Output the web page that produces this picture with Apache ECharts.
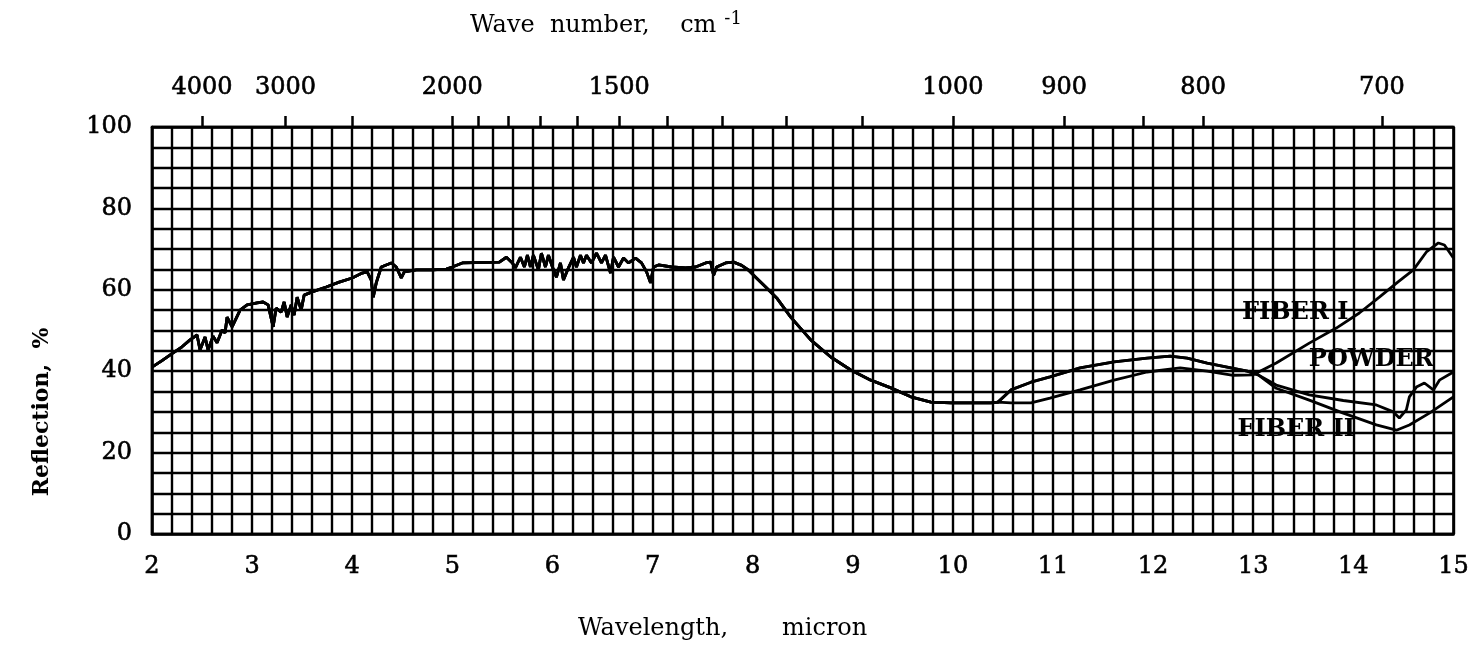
<!DOCTYPE html>
<html>
<head>
<meta charset="utf-8">
<script src="https://cdn.jsdelivr.net/npm/echarts@6/dist/echarts.min.js"></script>
<style>
  html, body { margin: 0; padding: 0; background: #fff; }
  #chart { width: 1472px; height: 652px; }
</style>
</head>
<body>
<div id="chart"></div>
<script>
// Reflection spectra: wavelength in micron vs reflection in percent.
// Below about 10.5 micron the three samples trace one common curve.
const sharedTrace = [
  [2.00, 41.0], [2.10, 42.6], [2.20, 44.3], [2.30, 46.0], [2.38, 47.7], [2.45, 48.9],
  [2.48, 45.2], [2.53, 48.4], [2.56, 45.2], [2.61, 48.6], [2.65, 47.0], [2.70, 50.1],
  [2.73, 49.4], [2.75, 53.3], [2.80, 50.9], [2.88, 55.0], [2.95, 56.3], [3.05, 56.8],
  [3.11, 57.0], [3.16, 56.3], [3.21, 50.9], [3.24, 55.5], [3.29, 54.5], [3.32, 57.0],
  [3.35, 53.3], [3.39, 56.3], [3.42, 53.8], [3.45, 58.2], [3.49, 55.0], [3.52, 58.7],
  [3.60, 59.5], [3.74, 60.7], [3.87, 61.9], [4.00, 62.9], [4.10, 64.1], [4.15, 64.4],
  [4.19, 62.4], [4.21, 58.2], [4.24, 61.7], [4.29, 65.6], [4.39, 66.6], [4.44, 65.6],
  [4.49, 62.9], [4.52, 64.4], [4.64, 64.9], [4.80, 64.9], [4.94, 65.1], [5.00, 65.6],
  [5.10, 66.6], [5.47, 66.8], [5.54, 68.0], [5.60, 66.6], [5.63, 65.4], [5.68, 68.0],
  [5.72, 65.6], [5.75, 68.5], [5.78, 65.6], [5.81, 68.5], [5.86, 64.9], [5.89, 69.0],
  [5.93, 65.6], [5.96, 68.5], [6.00, 65.6], [6.04, 63.1], [6.08, 66.6], [6.11, 62.4],
  [6.16, 65.4], [6.21, 68.0], [6.24, 65.6], [6.28, 68.5], [6.31, 66.6], [6.34, 68.5],
  [6.39, 66.6], [6.44, 69.0], [6.49, 66.6], [6.53, 68.5], [6.58, 64.1], [6.61, 68.0],
  [6.66, 65.6], [6.71, 67.8], [6.76, 66.6], [6.83, 67.8], [6.89, 66.6], [6.94, 64.4],
  [6.98, 61.7], [7.01, 65.6], [7.06, 66.1], [7.19, 65.6], [7.33, 65.4], [7.43, 65.6],
  [7.53, 66.6], [7.58, 66.8], [7.61, 63.6], [7.64, 65.6], [7.73, 66.6], [7.81, 66.8],
  [7.89, 66.0], [7.96, 64.8], [8.03, 63.1], [8.13, 60.7], [8.24, 58.0], [8.38, 53.3],
  [8.58, 47.7], [8.78, 43.5], [8.98, 40.3], [9.18, 37.8], [9.38, 35.9], [9.58, 33.7],
  [9.78, 32.4], [9.98, 32.2], [10.18, 32.2], [10.38, 32.2], [10.45, 32.4]
];

// FIBER I: slower rise to 13 micron, then the steep climb to the end.
const fiberOneTail = [
  [10.58, 32.2], [10.78, 32.2], [10.97, 33.4], [11.27, 35.4], [11.61, 37.8], [11.94, 39.8],
  [12.27, 40.8], [12.54, 40.0], [12.80, 39.0], [13.00, 39.1], [13.23, 42.0], [13.56, 46.9],
  [13.83, 50.6], [14.06, 54.3], [14.26, 58.2], [14.45, 62.0], [14.60, 64.9], [14.73, 69.3],
  [14.85, 71.5], [14.91, 71.0], [15.00, 67.8]
];

// POWDER: upper hump near 12 micron, dip near 14.5, recovery at 15.
const powderTail = [
  [10.58, 35.4], [10.78, 37.3], [10.97, 38.6], [11.27, 40.8], [11.61, 42.3], [11.94, 43.2],
  [12.17, 43.7], [12.34, 43.2], [12.54, 42.0], [12.74, 41.0], [12.94, 40.0], [13.05, 39.1],
  [13.23, 36.6], [13.56, 34.2], [13.90, 32.8], [14.23, 31.7], [14.40, 30.0], [14.46, 28.5],
  [14.53, 30.5], [14.56, 33.7], [14.63, 36.1], [14.71, 37.1], [14.80, 35.4], [14.86, 37.8],
  [15.00, 39.8]
];

// FIBER II: follows the upper hump, then falls to the lowest minimum.
const fiberTwoTail = [
  [10.58, 35.4], [10.78, 37.3], [10.97, 38.6], [11.27, 40.8], [11.61, 42.3], [11.94, 43.2],
  [12.17, 43.7], [12.34, 43.2], [12.54, 42.0], [12.74, 41.0], [12.94, 40.0], [13.05, 39.1],
  [13.23, 35.8], [13.56, 32.9], [13.90, 29.7], [14.23, 26.8], [14.43, 25.5], [14.56, 26.8],
  [14.76, 29.7], [15.00, 33.7]
];

// Top scale: wave number in cm^-1 (10000 / wavelength).
const waveNumberTicks = [4000, 3000, 2500, 2000, 1900, 1800, 1700, 1600, 1500, 1400,
  1300, 1200, 1100, 1000, 900, 840, 800, 700];
const waveNumberLabels = [4000, 3000, 2000, 1500, 1000, 900, 800, 700];

const seriesNames = ['FIBER I', 'POWDER', 'FIBER II'];

const SERIF = '"DejaVu Serif", "Liberation Serif", serif';
const INK = '#000';

const chart = echarts.init(document.getElementById('chart'), null, { renderer: 'canvas' });

const isWhole = (v, step) => Math.abs(v / step - Math.round(v / step)) < 1e-6;

// Shared look for the printed numerals: slightly heavy strokes.
const numeral = { color: INK, fontFamily: SERIF, fontSize: 24, textBorderColor: INK, textBorderWidth: 0.6 };

function curveSeries(name, tail, labelAt) {
  return {
    name,
    type: 'line',
    data: sharedTrace.concat(tail),
    showSymbol: false,
    symbol: 'none',
    smooth: false,
    lineStyle: { color: INK, width: 2.8 },
    z: 5,
    markPoint: {
      symbol: 'circle',
      symbolSize: 0,
      silent: true,
      label: {
        show: true,
        position: 'inside',
        formatter: name,
        color: INK,
        fontFamily: SERIF,
        fontWeight: 'bold',
        fontSize: 24
      },
      data: [{ coord: labelAt }]
    }
  };
}

const option = {
  animation: false,
  backgroundColor: '#fff',
  grid: {
    left: 152, right: 15, top: 127, bottom: 118,
    show: true, borderColor: INK, borderWidth: 2.5, backgroundColor: 'transparent'
  },
  xAxis: [
    {
      type: 'value', position: 'bottom', min: 2, max: 15, interval: 0.2,
      axisLine: { show: true, lineStyle: { color: INK, width: 2.5 } },
      axisTick: { show: false },
      splitLine: { show: true, lineStyle: { color: INK, width: 2.4 } },
      axisLabel: Object.assign({
        margin: 21,
        formatter: v => (isWhole(v, 1) ? String(Math.round(v)) : '')
      }, numeral)
    },
    {
      type: 'value', position: 'top', min: 2, max: 15,
      axisLine: { show: true, lineStyle: { color: INK, width: 2.5 } },
      axisTick: {
        show: true, inside: false, length: 11,
        lineStyle: { color: INK, width: 2.5 },
        customValues: waveNumberTicks.map(w => 10000 / w)
      },
      splitLine: { show: false },
      axisLabel: Object.assign({
        margin: 27,
        customValues: waveNumberLabels.map(w => 10000 / w),
        formatter: v => String(Math.round(10000 / v))
      }, numeral)
    }
  ],
  yAxis: {
    type: 'value', min: 0, max: 100, interval: 5,
    axisLine: { show: true, lineStyle: { color: INK, width: 2.5 } },
    axisTick: { show: false },
    splitLine: { show: true, lineStyle: { color: INK, width: 2.4 } },
    axisLabel: Object.assign({
      margin: 20,
      formatter: v => (isWhole(v, 20) ? String(Math.round(v)) : '')
    }, numeral)
  },
  graphic: [
    {
      type: 'text', left: 470, top: 10,
      style: {
        text: 'Wave  number,    cm{sup|-1}',
        fill: INK, font: '24px ' + SERIF,
        rich: { sup: { fontSize: 18, fontFamily: SERIF, verticalAlign: 'top', padding: [0, 0, 14, 8] } }
      }
    },
    {
      type: 'text', left: 578, top: 617,
      style: { text: 'Wavelength,', fill: INK, font: '24px ' + SERIF }
    },
    {
      type: 'text', left: 782, top: 617,
      style: { text: 'micron', fill: INK, font: '24px ' + SERIF }
    },
    {
      type: 'text', x: 42, y: 412, rotation: Math.PI / 2,
      style: {
        text: 'Reflection,  %', fill: INK, font: 'bold 22px ' + SERIF,
        textAlign: 'center', textVerticalAlign: 'middle'
      }
    }
  ],
  series: [
    curveSeries(seriesNames[0], fiberOneTail, [13.42, 54.3]),
    curveSeries(seriesNames[1], powderTail, [14.18, 42.8]),
    curveSeries(seriesNames[2], fiberTwoTail, [13.43, 25.6])
  ]
};

chart.setOption(option);
</script>
</body>
</html>
